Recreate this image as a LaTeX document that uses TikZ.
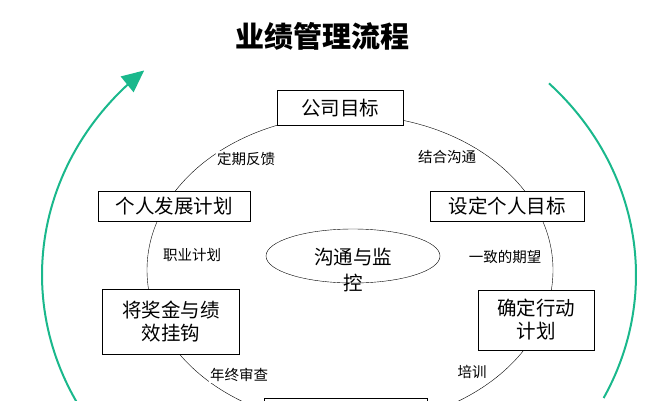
\documentclass[tikz,border=0pt]{standalone}
\usepackage{fontspec}
\setmainfont{Noto Sans CJK SC}
\usetikzlibrary{arrows.meta,shapes.geometric}
\definecolor{loopgreen}{RGB}{26,184,140}

\begin{document}
\begin{tikzpicture}[x=1pt,y=-1pt,
    stepbox/.style={rectangle, draw, thick, fill=white, inner sep=2pt, font=\fontsize{19.5}{23}\selectfont, align=center},
    tag/.style={font=\fontsize{14.5}{16}\selectfont, fill=white, inner sep=1pt},
    loop/.style={loopgreen, line width=2pt}
]
\useasboundingbox (0,0) rectangle (667,400);
\clip (0,0) rectangle (667,400);

% title
\node[font=\fontsize{29}{32}\selectfont\bfseries] (title) at (322,36) {业绩管理流程};

% outer green arcs
\draw[loop, -{Triangle[length=22pt,width=20pt]}] plot[domain=150:229, samples=60] ({339+297*cos(\x)},{275+271*sin(\x)});
\draw[loop] plot[domain=-45:27, samples=60] ({339+297*cos(\x)},{275+271*sin(\x)});

% inner cycle
\draw (350,270) ellipse [x radius=203, y radius=155];

% steps
\node[stepbox, minimum width=126pt, minimum height=35pt] (goal) at (340,108) {公司目标};
\node[stepbox, minimum width=152pt, minimum height=30pt] (dev) at (174,206) {个人发展计划};
\node[stepbox, minimum width=154pt, minimum height=30pt] (set) at (507,206) {设定个人目标};
\node[stepbox, minimum width=137pt, minimum height=65pt] (bonus) at (171,322) {将奖金与绩\\效挂钩};
\node[stepbox, minimum width=116pt, minimum height=60pt] (act) at (536,320) {确定行动\\计划};
\node[stepbox, minimum width=163pt, minimum height=40pt] (bottom) at (346,418) {};

% centre
\node[draw, ellipse, minimum width=174pt, minimum height=54pt] (talk) at (353,256) {};
\node[font=\fontsize{19.5}{26}\selectfont, align=center] (talktext) at (353,270) {沟通与监\\控};

% labels
\node[tag] (l1) at (246,159) {定期反馈};
\node[tag] (l2) at (447,157) {结合沟通};
\node[tag] (l3) at (192,255) {职业计划};
\node[tag] (l4) at (505,257) {一致的期望};
\node[tag] (l5) at (239,375) {年终审查};
\node[tag] (l6) at (472,372) {培训};

\end{tikzpicture}
\end{document}
